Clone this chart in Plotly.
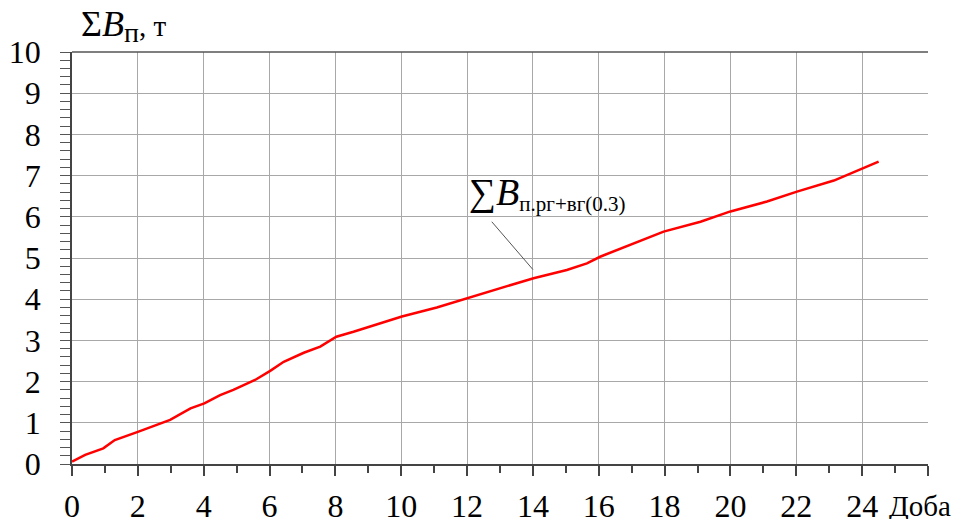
import plotly.graph_objects as go

# Cumulative mass over days
days = [0.0, 0.4, 0.95, 1.3, 2.0, 2.98, 3.6, 4.02, 4.5, 4.9, 5.56, 6.02, 6.43, 7.04,
        7.54, 8.03, 8.55, 9.16, 10.02, 11.08, 12.0, 13.0, 14.02, 15.03, 15.64, 16.04,
        17.06, 17.97, 19.09, 20.0, 21.11, 22.02, 23.14, 24.5]
mass = [0.06, 0.22, 0.38, 0.58, 0.78, 1.07, 1.35, 1.47, 1.67, 1.8, 2.04, 2.26, 2.48, 2.70,
        2.85, 3.09, 3.21, 3.37, 3.58, 3.80, 4.02, 4.27, 4.51, 4.71, 4.87, 5.03,
        5.36, 5.64, 5.88, 6.13, 6.37, 6.61, 6.88, 7.34]

x_ticks = list(range(0, 27, 2))
x_labels = [str(v) for v in range(0, 25, 2)] + [""]
y_ticks = list(range(0, 11))

SERIF = "Liberation Serif, Times New Roman, serif"

fig = go.Figure()
fig.add_trace(go.Scatter(x=days, y=mass, mode="lines",
                         line=dict(color="#ff0000", width=2.5),
                         showlegend=False, hoverinfo="skip"))

fig.update_layout(
    width=957, height=519,
    margin=dict(l=72, r=29, t=52, b=55),
    paper_bgcolor="white", plot_bgcolor="white",
    font=dict(family=SERIF, size=32, color="black"),
)

fig.update_xaxes(
    range=[0, 26], tickvals=x_ticks, ticktext=x_labels, automargin=False,
    showgrid=True, gridcolor="#a8a8a8", gridwidth=1,
    showline=True, linecolor="#444", linewidth=1.5,
    ticks="outside", ticklen=10, tickcolor="#444", tickwidth=1.5,
    minor=dict(dtick=1, ticks="outside", ticklen=7, tickcolor="#444", showgrid=False),
    ticklabelstandoff=3, zeroline=False,
)
fig.update_yaxes(
    range=[0, 10], tickvals=y_ticks, automargin=False,
    showgrid=True, gridcolor="#a8a8a8", gridwidth=1,
    showline=True, linecolor="#444", linewidth=1.5,
    ticks="outside", ticklen=10, tickcolor="#555", tickwidth=1.2,
    minor=dict(dtick=0.2, ticks="outside", ticklen=10, tickcolor="#555", tickwidth=1.2, showgrid=False),
    ticklabelstandoff=13, zeroline=False,
)

# top border
fig.add_shape(type="line", xref="paper", yref="paper", x0=0, x1=1, y0=1, y1=1,
              line=dict(color="#555", width=1.5))

# axis titles
fig.add_annotation(xref="paper", yref="paper", x=0.008, y=1.0, yshift=2,
                   xanchor="left", yanchor="bottom", showarrow=False,
                   text="<span style='font-size:36px'>Σ<i>B</i></span>"
                        "<sub><span style='font-size:28px'>п</span></sub>, т",
                   font=dict(family=SERIF, size=29, color="black"))
fig.add_annotation(xref="paper", yref="paper", x=1.029, y=0, yshift=-24,
                   xanchor="right", yanchor="top", showarrow=False,
                   text="Доба", font=dict(family=SERIF, size=29, color="black"))

# curve label with leader line
fig.add_shape(type="line", x0=12.75, y0=5.88, x1=14.0, y1=4.72,
              line=dict(color="#555", width=1))
fig.add_annotation(x=12.0, y=5.98, xanchor="left", yanchor="bottom", showarrow=False,
                   text="<span style='font-size:38px'>∑<i>B</i></span>"
                        "<sub><span style='font-size:21px'>п.рг+вг(0.3)</span></sub>",
                   font=dict(family=SERIF, size=30, color="black"))

fig.write_html("out.html")
